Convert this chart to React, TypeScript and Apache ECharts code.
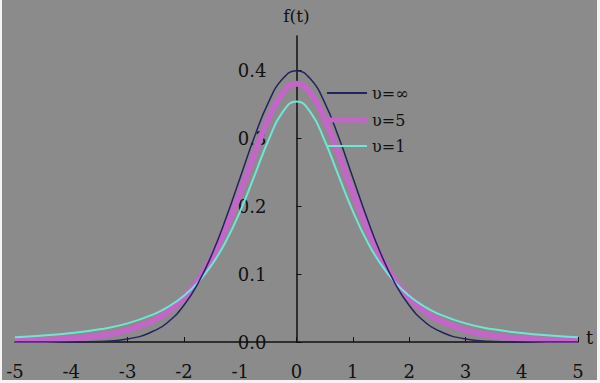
import React, { useEffect, useRef } from "react";
import * as echarts from "echarts";

const tValues = [-5, -4.5, -4, -3.5, -3, -2.5, -2.25, -2, -1.75, -1.5, -1.25, -1, -0.75, -0.5, -0.25, 0, 0.25, 0.5, 0.75, 1, 1.25, 1.5, 1.75, 2, 2.25, 2.5, 3, 3.5, 4, 4.5, 5];

// right half (t = 0 ... 5), mirrored for the left half
const normalHalf = [0.3989, 0.3867, 0.3521, 0.3011, 0.2420, 0.1826, 0.1295, 0.0863, 0.0540, 0.0317, 0.0175, 0.0044, 0.0009, 0.0001, 0.0000, 0.0000];
const v5Half = [0.3796, 0.3657, 0.3279, 0.2757, 0.2197, 0.1679, 0.1245, 0.0905, 0.0651, 0.0466, 0.0333, 0.0173, 0.0092, 0.0051, 0.0029, 0.0018];
const v1Half = [0.3536, 0.3376, 0.2963, 0.2438, 0.1925, 0.1487, 0.1141, 0.0878, 0.0680, 0.0533, 0.0422, 0.0274, 0.0186, 0.0131, 0.0095, 0.0071];

const seriesNames = ["υ=∞", "υ=5", "υ=1"];
const xTicks = [-5, -4, -3, -2, -1, 0, 1, 2, 3, 4, 5];
const yTicks = [0, 0.1, 0.2, 0.3, 0.4];

function full(half: number[]): number[] {
  const left = half.slice(1).reverse();
  return left.concat(half);
}

function pairs(vals: number[]): number[][] {
  return tValues.map((t, i) => [t, vals[i]]);
}

const FONT = "DejaVu Serif";
const W = 595;
const GRID_L = 13;
const GRID_R = 19;

const NAVY = "#23235e";
const MAGENTA = "#c466c8";
const CYAN = "#6ee6d6";

function legendFor(name: string, top: number, h: number, color: string) {
  return {
    orient: "vertical",
    left: 320,
    top,
    icon: "rect",
    itemWidth: 40,
    itemHeight: h,
    itemGap: 0,
    data: [{ name, itemStyle: { color } }],
    textStyle: { fontFamily: FONT, fontSize: 16, color: "#111" },
  };
}

export default function App() {
  const ref = useRef<HTMLDivElement>(null);
  useEffect(() => {
    document.body.style.margin = "0";
    const chart = echarts.init(ref.current!, null, { renderer: "svg" });
    chart.setOption({
      animation: false,
      backgroundColor: "#8b8b8b",
      grid: { left: GRID_L, right: GRID_R, top: 36, bottom: 38, containLabel: false, outerBoundsMode: "none" },
      legend: [
        legendFor(seriesNames[0], 80, 2, NAVY),
        legendFor(seriesNames[1], 107, 5, MAGENTA),
        legendFor(seriesNames[2], 133, 2, CYAN),
      ],
      xAxis: {
        type: "value",
        min: -5,
        max: 5,
        interval: 1,
        name: "t",
        nameLocation: "end",
        nameGap: 8,
        nameTextStyle: { fontFamily: FONT, fontSize: 18, color: "#111", verticalAlign: "bottom", padding: [0, 0, -4, 0] },
        splitLine: { show: false },
        axisLine: { onZero: true, lineStyle: { color: "#111", width: 1.5 } },
        axisTick: { inside: true, length: 5, lineStyle: { color: "#111" }, customValues: xTicks },
        axisLabel: { fontFamily: FONT, fontSize: 18, color: "#111", margin: 20, customValues: xTicks },
      },
      yAxis: {
        type: "value",
        min: 0,
        max: 0.45,
        interval: 0.1,
        name: "f(t)",
        nameLocation: "end",
        nameGap: 12,
        nameTextStyle: { fontFamily: FONT, fontSize: 17, color: "#111" },
        offset: -(W - GRID_L - GRID_R) / 2,
        splitLine: { show: false },
        axisLine: { onZero: false, lineStyle: { color: "#111", width: 1.5 } },
        axisTick: { inside: true, length: 5, lineStyle: { color: "#111" }, customValues: yTicks },
        axisLabel: {
          fontFamily: FONT,
          fontSize: 18,
          color: "#111",
          margin: 30,
          customValues: yTicks,
          formatter: (v: number) => v.toFixed(1),
        },
      },
      series: [
        {
          name: seriesNames[1],
          type: "line",
          smooth: true,
          symbol: "none",
          data: pairs(full(v5Half)),
          lineStyle: { color: MAGENTA, width: 6 },
          itemStyle: { color: MAGENTA },
        },
        {
          name: seriesNames[2],
          type: "line",
          smooth: true,
          symbol: "none",
          data: pairs(full(v1Half)),
          lineStyle: { color: CYAN, width: 2 },
          itemStyle: { color: CYAN },
        },
        {
          name: seriesNames[0],
          type: "line",
          smooth: true,
          symbol: "none",
          data: pairs(full(normalHalf)),
          lineStyle: { color: NAVY, width: 1.5 },
          itemStyle: { color: NAVY },
        },
      ],
    });
    return () => chart.dispose();
  }, []);
  return (
    <div style={{ width: 600, height: 383, background: "#f4f4f4", position: "relative" }}>
      <div ref={ref} style={{ position: "absolute", left: 2, top: 0, width: W, height: 380 }} />
    </div>
  );
}
